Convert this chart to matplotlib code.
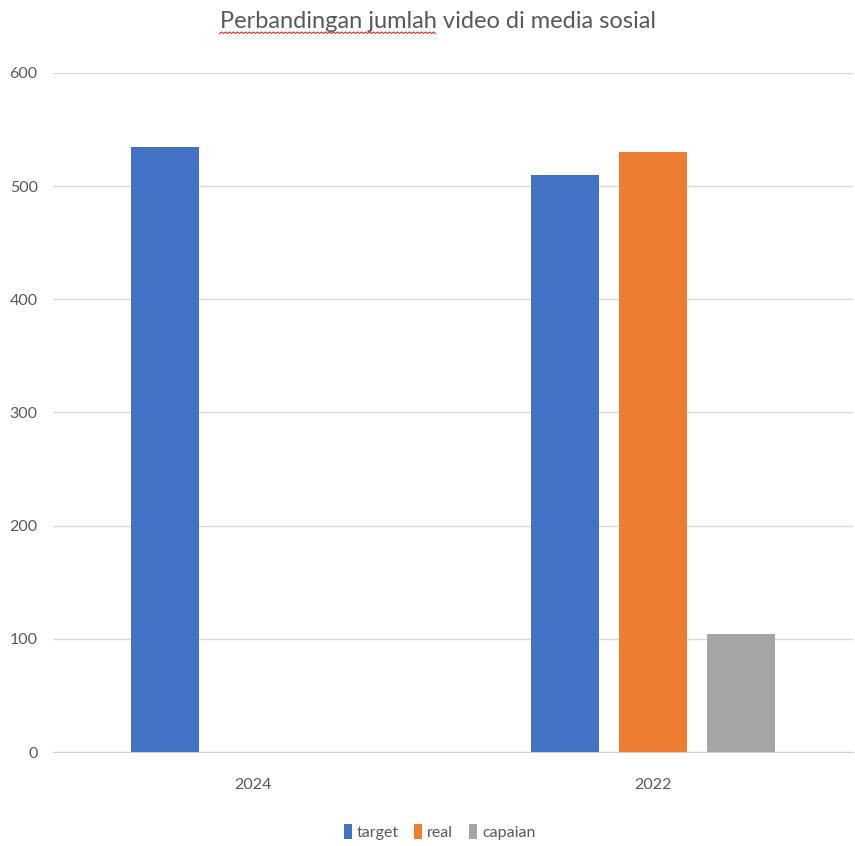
import numpy as np
import matplotlib.pyplot as plt

plt.rcParams['font.family'] = ['Lato', 'DejaVu Sans']

categories = ['2024', '2022']
series = ['target', 'real', 'capaian']
target = [535, 510]
real = [0, 530]
capaian = [0, 104]
yticks = [0, 100, 200, 300, 400, 500, 600]

colors = ['#4472C4', '#ED7D31', '#A5A5A5']
values = [target, real, capaian]

fig = plt.figure(figsize=(8.55, 8.46), dpi=100)
ax = fig.add_axes([53 / 855, 1 - 752 / 846, 800 / 855, (752 - 73) / 846])

x = np.arange(len(categories))
width = 0.17
offsets = [-0.22, 0.0, 0.22]
for vals, off, col, name in zip(values, offsets, colors, series):
    ax.bar(x + off, vals, width, color=col, label=name, zorder=3)

ax.set_xlim(-0.5, 1.5)
ax.set_ylim(0, 600)
ax.set_yticks(yticks)
ax.set_xticks(x)
ax.set_xticklabels(categories)
ax.yaxis.grid(True, color='#d9d9d9', linewidth=1, zorder=0)
for s in ['top', 'right', 'left']:
    ax.spines[s].set_visible(False)
ax.spines['bottom'].set_color('#d0d0d0')
ax.tick_params(axis='both', length=0, colors='#595959', labelsize=11.5)
ax.tick_params(axis='y', pad=11)
ax.tick_params(axis='x', pad=19)

title = fig.text(0.5 + 10 / 855, 1 - 22 / 846, 'Perbandingan jumlah video di media sosial',
                 ha='center', va='center', fontsize=17, color='#595959')

# red spell-check squiggle under the first two words
fig.canvas.draw()
r = fig.canvas.get_renderer()
bb = title.get_window_extent(r)
tmp = fig.text(0, 0, 'Perbandingan jumlah', fontsize=17)
w = tmp.get_window_extent(r).width
tmp.remove()
xs = np.arange(bb.x0, bb.x0 + w, 2.0)
ys = bb.y0 - 1 + np.where(np.arange(len(xs)) % 2 == 0, 0, 1.5)
fig.add_artist(plt.Line2D(xs / fig.bbox.width, ys / fig.bbox.height,
                          color='#e03030', linewidth=0.8))

leg = fig.legend(loc='center', bbox_to_anchor=(0.5 + 12 / 855, 1 - 832 / 846), ncol=3,
                 frameon=False, fontsize=11.5, handlelength=0.5, handleheight=1.1,
                 handletextpad=0.3, columnspacing=1.0)
for t in leg.get_texts():
    t.set_color('#595959')

fig.savefig('out.png', dpi=100)
